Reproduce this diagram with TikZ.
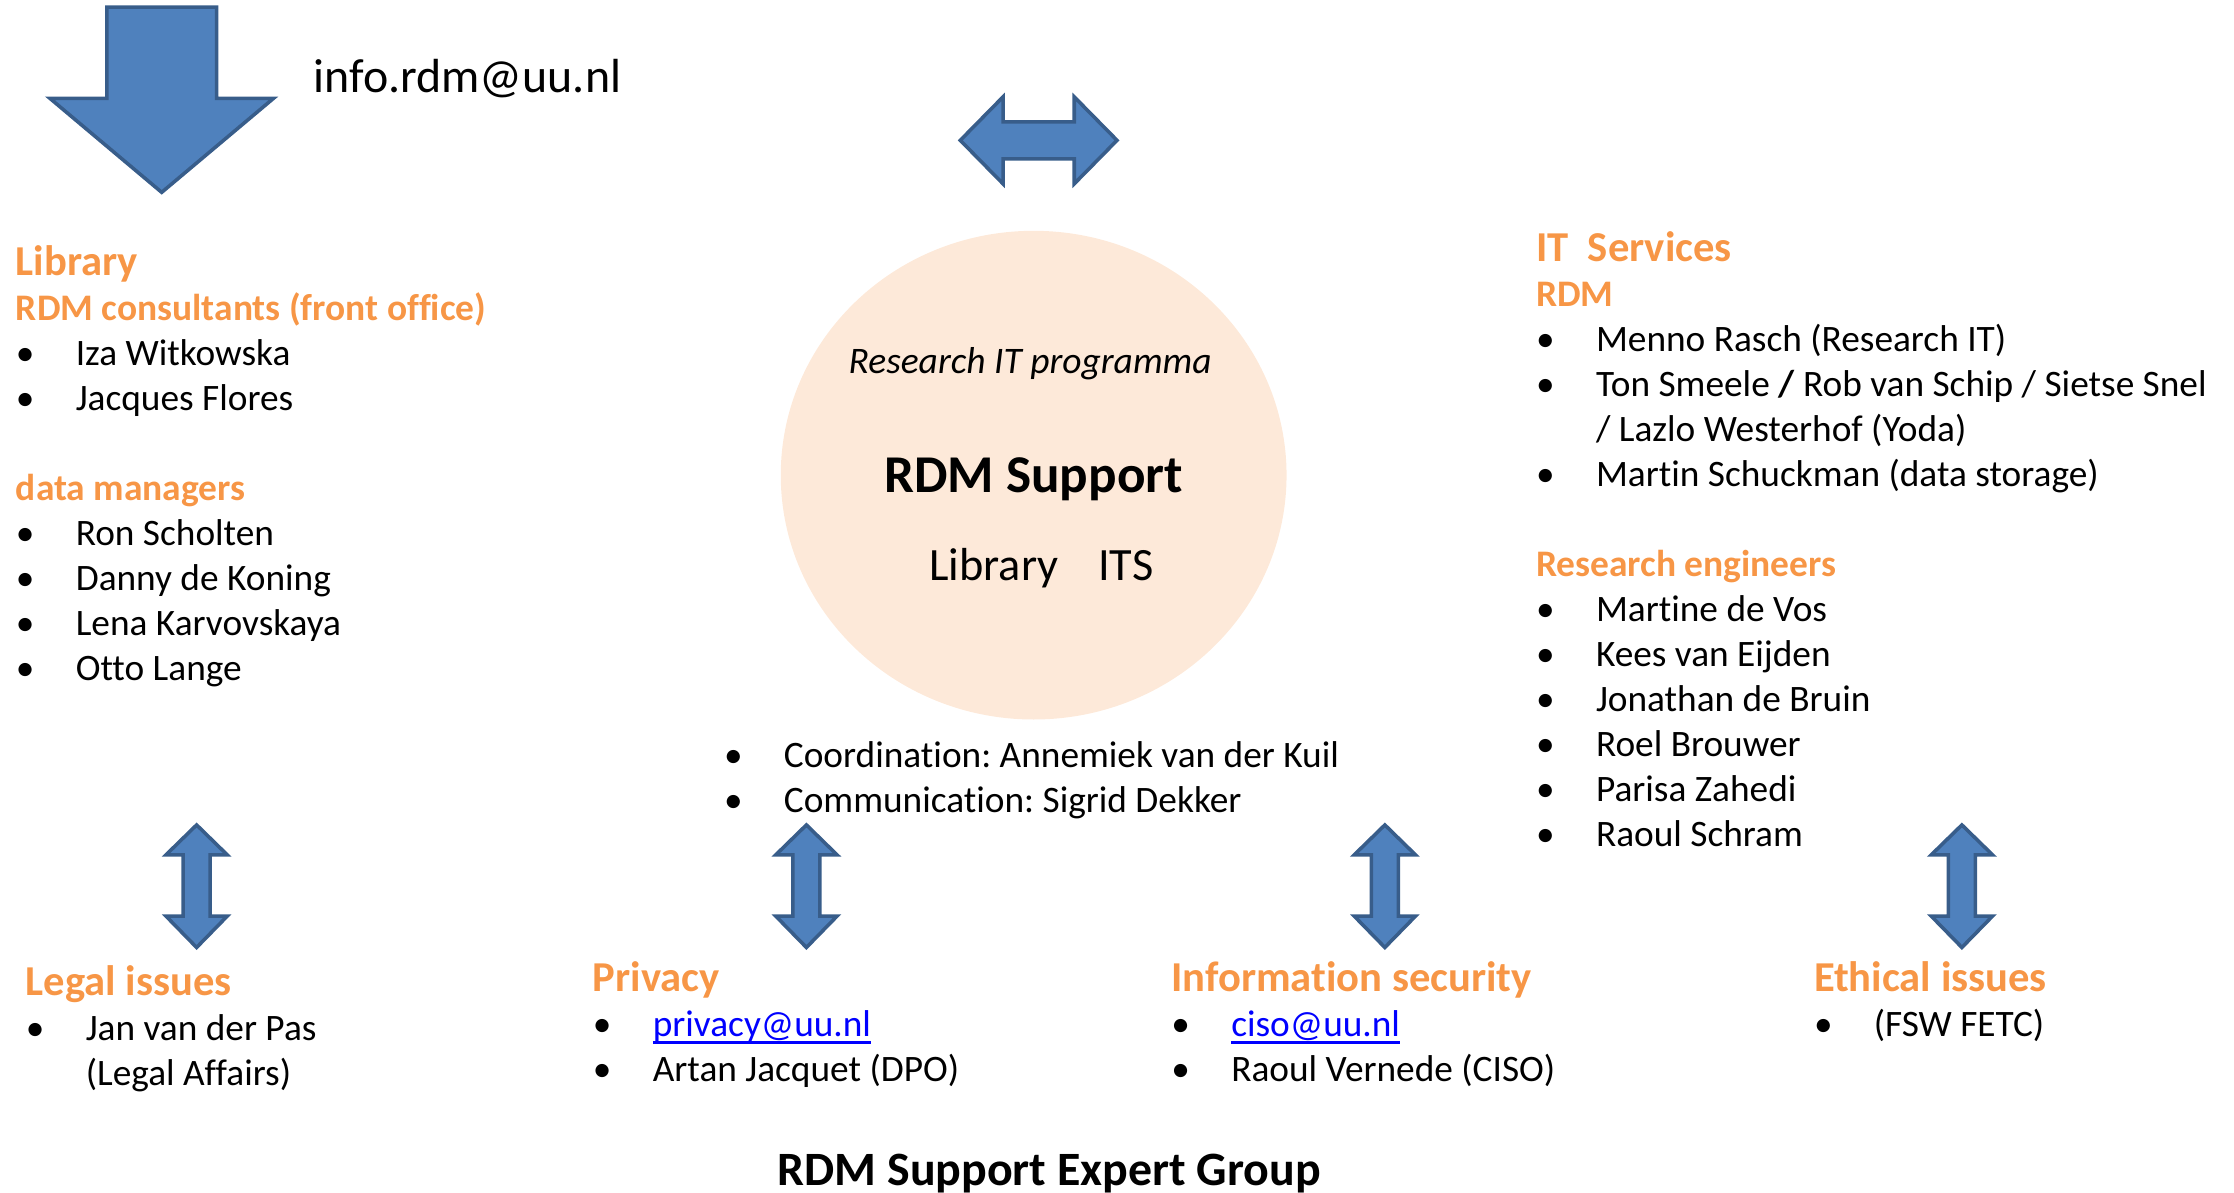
\documentclass[tikz,border=0pt]{standalone}
\usepackage{fontspec}
\setmainfont{Carlito}[Ligatures=NoCommon]
\usepackage{xcolor}
\usetikzlibrary{shapes.geometric,positioning}

\definecolor{arrowfill}{HTML}{4F81BD}
\definecolor{arrowline}{HTML}{385D8A}
\definecolor{headorange}{HTML}{F79646}
\definecolor{corefill}{HTML}{FDE9D9}
\definecolor{linkblue}{HTML}{0000FF}

\newcommand{\bodysize}{\fontsize{26.2pt}{31.6pt}\selectfont}
\newcommand{\grouphead}[1]{{\fontsize{29.9pt}{31.6pt}\selectfont\bfseries\color{headorange}#1}}
\newcommand{\subhead}[1]{{\fontsize{26.3pt}{31.6pt}\selectfont\bfseries\color{headorange}#1}}
\newcommand{\bul}{\makebox[42pt][l]{\textbullet}}
\newcommand{\mailto}[1]{{\color{linkblue}\setbox0=\hbox{#1}\rlap{\rule[-5pt]{\wd0}{1.8pt}}\box0}}

\frenchspacing

\begin{document}
\begin{tikzpicture}[x=1pt,y=-1pt,
    list/.style={anchor=base west, inner sep=0pt, font=\bodysize},
    blockarrow/.style={fill=arrowfill, draw=arrowline, line width=2.5pt}]

\useasboundingbox (0,0) rectangle (1568,837.3);

% mailbox arrow and address
\draw[blockarrow] (75,5) -- (152,5) -- (152,69) -- (192,69) -- (113.5,135)
    -- (35,69) -- (75,69) -- cycle;
\node[anchor=base west, inner sep=0pt, font=\fontsize{33.6pt}{36pt}\selectfont]
    (infomail) at (220,65) {info.rdm@uu.nl};

% Library <-> ITS
\draw[blockarrow] (674,98.5) -- (704,68) -- (704,85.5) -- (754,85.5) -- (754,68)
    -- (784,98.5) -- (754,129) -- (754,111.5) -- (704,111.5) -- (704,129) -- cycle;

% RDM Support core
\node[ellipse,
    fill=corefill,
    minimum width=355pt,
    minimum height=343pt,
    inner sep=0pt
] (core) at (725.5,333.5) {};

\node[anchor=base, inner sep=0pt, font=\fontsize{26.3pt}{30pt}\selectfont\itshape]
    (programme) at (723,262.5) {Research IT programma};
\node[anchor=base, inner sep=0pt, font=\fontsize{37.3pt}{40pt}\selectfont\bfseries]
    (rdmsupport) at (725.5,346) {RDM Support};
\node[anchor=base, inner sep=0pt, font=\fontsize{32.5pt}{36pt}\selectfont]
    (partners) at (731,407.5) {Library\hspace{28pt}ITS};

\node[list] (coordination) at (508,538.5) {\begin{tabular}[t]{@{}l@{}}
    \bul Coordination: Annemiek van der Kuil\\
    \bul Communication: Sigrid Dekker
\end{tabular}};

% Library column
\node[list] (library) at (11,193.5) {\begin{tabular}[t]{@{}l@{}}
    \grouphead{Library}\\
    \subhead{RDM consultants (front office)}\\
    \bul Iza Witkowska\\
    \bul Jacques Flores\\
    \\
    \subhead{data managers}\\
    \bul Ron Scholten\\
    \bul Danny de Koning\\
    \bul Lena Karvovskaya\\
    \bul Otto Lange
\end{tabular}};

% IT Services column
\node[list] (itservices) at (1078,183.5) {\begin{tabular}[t]{@{}l@{}}
    \grouphead{IT~~Services}\\
    \subhead{RDM}\\
    \bul Menno Rasch (Research IT)\\
    \bul Ton Smeele \textbf{/} Rob van Schip / Sietse Snel\\
    \hspace{42pt}/ Lazlo Westerhof (Yoda)\\
    \bul Martin Schuckman (data storage)\\
    \\
    \subhead{Research engineers}\\
    \bul Martine de Vos\\
    \bul Kees van Eijden\\
    \bul Jonathan de Bruin\\
    \bul Roel Brouwer\\
    \bul Parisa Zahedi\\
    \bul Raoul Schram
\end{tabular}};

% expert links
\foreach \ax in {138,566,972,1377}
    \draw[blockarrow] (\ax,579) -- ++(21.5,21) -- ++(-12,0) -- ++(0,43)
        -- ++(12,0) -- ++(-21.5,22) -- ++(-21.5,-22) -- ++(12,0)
        -- ++(0,-43) -- ++(-12,0) -- cycle;

\node[list] (legal) at (18,699) {\begin{tabular}[t]{@{}l@{}}
    \grouphead{Legal issues}\\
    \bul Jan van der Pas\\
    \hspace{42pt}(Legal Affairs)
\end{tabular}};

\node[list] (privacy) at (416,696) {\begin{tabular}[t]{@{}l@{}}
    \grouphead{Privacy}\\
    \bul\mailto{privacy@uu.nl}\\
    \bul Artan Jacquet (DPO)
\end{tabular}};

\node[list] (infosec) at (822,696) {\begin{tabular}[t]{@{}l@{}}
    \grouphead{Information security}\\
    \bul\mailto{ciso@uu.nl}\\
    \bul Raoul Vernede (CISO)
\end{tabular}};

\node[list] (ethics) at (1273,696) {\begin{tabular}[t]{@{}l@{}}
    \grouphead{Ethical issues}\\
    \bul (FSW FETC)
\end{tabular}};

\node[anchor=base, inner sep=0pt, font=\fontsize{33.6pt}{36pt}\selectfont\bfseries]
    (expertgroup) at (736.5,832) {RDM Support Expert Group};

\end{tikzpicture}
\end{document}
